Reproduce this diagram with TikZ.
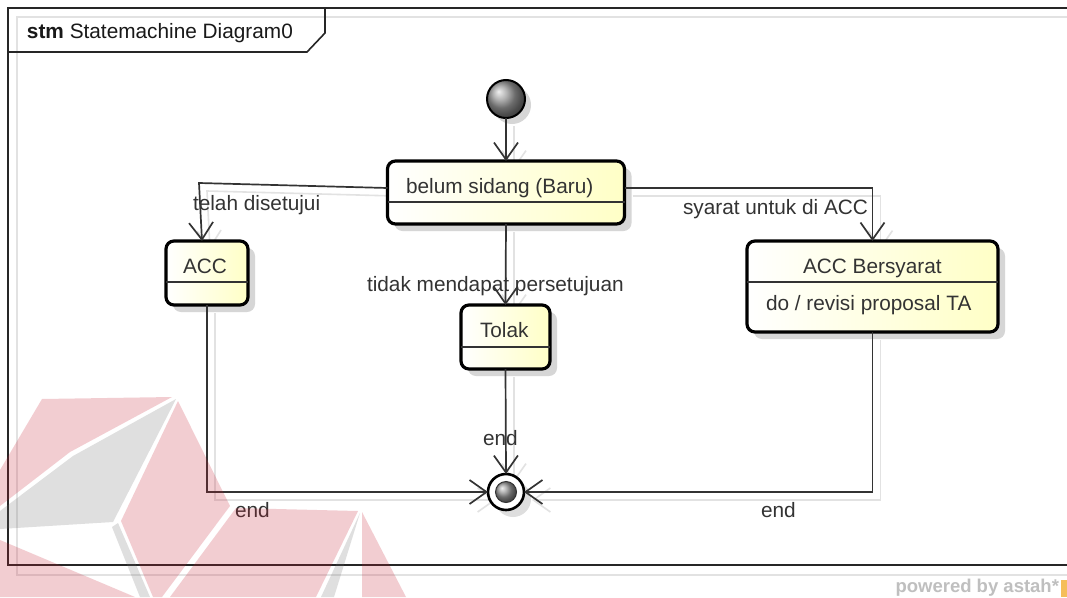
\documentclass[tikz,border=0pt]{standalone}
\usepackage{fontspec}
\setmainfont{Liberation Sans}
\usetikzlibrary{arrows.meta,calc,shadows}
\definecolor{ink}{HTML}{333333}
\definecolor{statefill}{HTML}{FFFFC6}
\definecolor{shadowgray}{HTML}{D6D6D6}
\definecolor{lineshadow}{HTML}{E2E2E2}
\definecolor{wmred}{RGB}{200,30,50}
\definecolor{wmgray}{RGB}{110,110,110}
\definecolor{astahorange}{HTML}{F5BE5A}

\begin{document}
\begin{tikzpicture}[x=1pt,y=-1pt,
  every node/.style={font=\fontsize{20.8}{24}\selectfont, text=ink, inner sep=0pt, outer sep=0pt},
  state/.style={draw=black, line width=3.2pt, rounded corners=8pt,
    left color=white, right color=statefill,
    drop shadow={shadow xshift=7pt, shadow yshift=-7pt, fill=shadowgray, opacity=1}},
  divider/.style={draw=ink, line width=2pt},
  wire/.style={draw=ink, line width=1.7pt},
  arr/.style={-{Straight Barb[length=17pt,width=24pt]}},
  wireshadow/.style={draw=lineshadow, line width=1.6pt, transform canvas={shift={(8,8)}}},
  lbl/.style={anchor=base west},
  framepen/.style={draw=black!85, line width=1.6pt},
  frameshadow/.style={draw=lineshadow, line width=1.4pt},
]
\useasboundingbox (0,0) rectangle (1067,597);
\fill[white] (0,0) rectangle (1067,597);

% diagram frame and its name tab
\draw[frameshadow] (1067,17) -- (17,17) -- (17,575) -- (1067,575);
\draw[framepen] (1067,8) -- (8,8) -- (8,565) -- (1067,565);
\draw[framepen] (8,52) -- (307,52) -- (325,33) -- (325,8);
\node[lbl, text=black!90] (title) at (27,38) {\textbf{stm} Statemachine Diagram0};

% bend point of the left transition
\coordinate (bendL) at (199,183);

\path (506,99) coordinate (initpos) (506,492) coordinate (finpos);

% transition shadows
\draw[wireshadow, arr] (506,118) -- (506,161);
\draw[wireshadow, arr] (387.5,188) -- (199,183) -- (202,241);
\draw[wireshadow, arr] (624.5,188) -| (872.5,241);
\draw[wireshadow, arr] (506,224) -- (506,305);
\draw[wireshadow, arr] (506,369) -- (506,474);
\draw[wireshadow, arr] (207,305) |- (488,492);
\draw[wireshadow, arr] (872.5,332) |- (524,492);

% initial state
\node[circle, minimum size=38pt, draw=black, line width=2pt, ball color=black!40,
  drop shadow={shadow xshift=6pt, shadow yshift=-6pt, fill=shadowgray, opacity=1}] (init) at (initpos) {};

% final state
\node[circle, minimum size=36pt, draw=black, line width=2.6pt, fill=white,
  drop shadow={shadow xshift=7pt, shadow yshift=-7pt, fill=shadowgray, opacity=0.8}] (fin) at (finpos) {};
\node[circle, minimum size=21pt, draw=black!80, line width=1pt, ball color=black!40] (fincore) at (fin) {};

% states
\node[state, minimum width=237pt, minimum height=63pt] (belum) at (506,192.5) {};
\node[state, minimum width=82pt, minimum height=64pt] (acc) at (207,273) {};
\node[state, minimum width=89pt, minimum height=64pt] (tolak) at (505.5,337) {};
\node[state, minimum width=251pt, minimum height=91pt] (accb) at (872.5,286.5) {};

\draw[divider] ($(belum.north west)+(0,41)$) -- ($(belum.north east)+(0,41)$);
\draw[divider] ($(acc.north west)+(0,41)$) -- ($(acc.north east)+(0,41)$);
\draw[divider] ($(tolak.north west)+(0,42)$) -- ($(tolak.north east)+(0,42)$);
\draw[divider] ($(accb.north west)+(0,41)$) -- ($(accb.north east)+(0,41)$);

\node[lbl] (belumtxt) at (406,193) {belum sidang (Baru)};
\node[lbl] (acctxt) at (183,273) {ACC};
\node[lbl] (tolaktxt) at (480,337) {Tolak};
\node[lbl] (accbtxt) at (803,273) {ACC Bersyarat};
\node[lbl] (accbdo) at (766,310) {do / revisi proposal TA};

% transitions
\draw[wire, arr] (init.south) -- (belum.north);
\draw[wire, arr] ($(belum.west)+(0,-4.5)$) -- (bendL) -- ($(acc.north)+(-5,0)$);
\draw[wire, arr] ($(belum.east)+(0,-4.5)$) -| (accb.north);
\draw[wire, arr] (belum.south) -- (tolak.north);
\draw[wire, arr] (tolak.south) -- (fin.north);
\draw[wire, arr] (acc.south) |- (fin.west);
\draw[wire, arr] (accb.south) |- (fin.east);

% transition labels
\node[lbl] (lblacc) at (193,210) {telah disetujui};
\node[lbl] (lblaccb) at (683,214) {syarat untuk di ACC};
\node[lbl] (lbltolak) at (367,291) {tidak mendapat persetujuan};
\node[lbl] (lblend1) at (483,445) {end};
\node[lbl] (lblend2) at (235,517) {end};
\node[lbl] (lblend3) at (761,517) {end};

% tool credit
\node[anchor=base east, font=\bfseries\fontsize{18.5}{20}\selectfont, text=black!25] (credit) at (1059,592) {powered by astah*};
\fill[astahorange] (1061,580) rectangle (1067,597);

% faint logo watermark
\begin{scope}[fill opacity=0.22]
\fill[wmred] (42,399) -- (172,397) -- (70,452) -- (0,506) -- (0,470) -- cycle;
\fill[wmgray] (176,399) -- (113,522) -- (0,529) -- (0,511) -- (73,456) -- cycle;
\fill[wmred] (178,401) -- (230,506) -- (162,597) -- (153,597) -- (121,521) -- cycle;
\fill[wmgray] (112,527) -- (118,523) -- (150,597) -- (140,597) -- cycle;
\fill[wmred] (0,540) -- (135,597) -- (0,597) -- cycle;
\fill[wmred] (236,508) -- (358,511) -- (316,597) -- (170,597) -- cycle;
\fill[wmgray] (360,513) -- (321,597) -- (334,597) -- cycle;
\fill[wmred] (362,512) -- (406,597) -- (362,597) -- cycle;
\end{scope}
\end{tikzpicture}
\end{document}
